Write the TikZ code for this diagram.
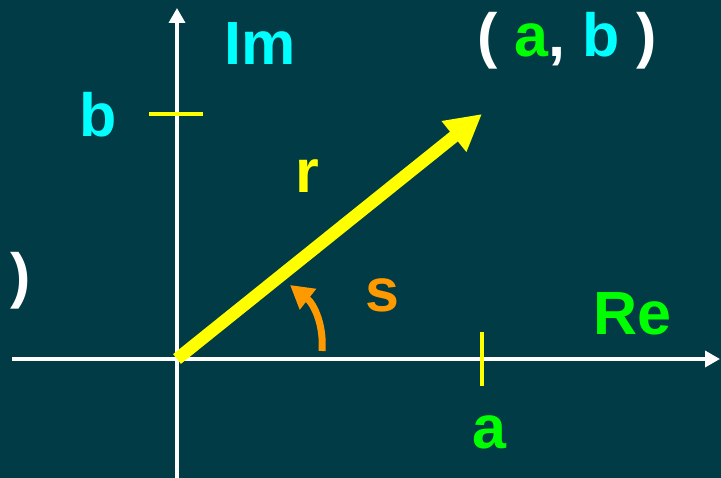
\documentclass[tikz,border=0pt]{standalone}
\usepackage{fontspec}
\setmainfont{Liberation Sans}
\usetikzlibrary{arrows.meta}
\definecolor{bgteal}{RGB}{0, 59, 70}
\definecolor{lblgreen}{RGB}{0, 255, 0}
\definecolor{lblcyan}{RGB}{0, 255, 255}
\definecolor{lblyellow}{RGB}{255, 255, 0}
\definecolor{lblorange}{RGB}{255, 153, 0}

\begin{document}
\begin{tikzpicture}[x=1pt, y=-1pt,
    lbl/.style={anchor=base, inner sep=0pt, font=\fontsize{61}{70}\selectfont\bfseries}]
    \fill[bgteal] (0,0) rectangle (721,478);
    \useasboundingbox (0,0) rectangle (721,478);
    % axes
    \coordinate (O) at (177,359);
    \coordinate (xl) at (12,359);
    \coordinate (xr) at (720,359);
    \coordinate (yb) at (177,478);
    \coordinate (yt) at (177,8);
    \draw[white, line width=3.5pt, -{Triangle[length=15pt, width=16pt]}] (xl) -- (xr);
    \draw[white, line width=3.5pt, -{Triangle[length=15pt, width=16pt]}] (yb) -- (yt);
    % ticks
    \coordinate (bl) at (149,114);
    \coordinate (br) at (203,114);
    \coordinate (at) at (482,332);
    \coordinate (ab) at (482,386);
    \draw[lblyellow, line width=3.5pt] (bl) -- (br);
    \draw[lblyellow, line width=4pt] (at) -- (ab);
    % vector
    \coordinate (P) at (482,114);
    \draw[lblyellow, line width=12.5pt, -{Triangle[length=36pt, width=37pt]}] (O) -- (P);
    % angle
    \coordinate (s0) at (322,351);
    \coordinate (s1) at (290,285);
    \draw[lblorange, line width=7pt, -{Triangle[length=23pt, width=25pt]}] (s0) .. controls (324,325) and (314,304) .. (s1);
    % labels
    \node[lbl, lblcyan] (Im) at (260,65) {Im};
    \node[lbl, lblgreen] (Re) at (632,335) {Re};
    \node[lbl, lblcyan] (b) at (98,137) {b};
    \node[lbl, lblgreen] (a) at (489,449) {a};
    \node[lbl, lblyellow] (r) at (307,193) {r};
    \node[lbl, lblorange] (s) at (382,312) {s};
    \node[lbl, white] (ab) at (567,57) {( \textcolor{lblgreen}{a}, \textcolor{lblcyan}{b} )};
    \node[lbl, white] (par) at (21,297) {)};
\end{tikzpicture}
\end{document}
